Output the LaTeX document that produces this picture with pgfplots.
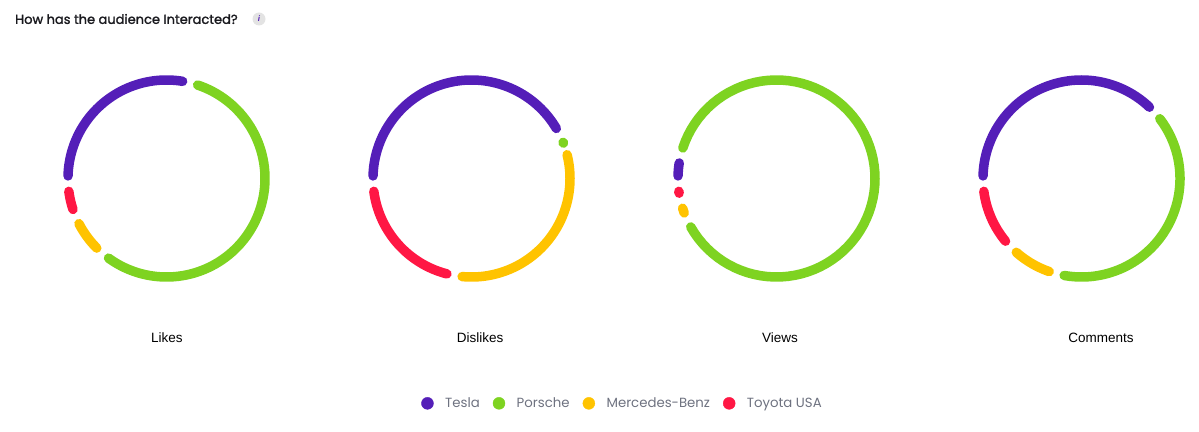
\documentclass[border=0pt]{standalone}
\usepackage{pgfplots}
\pgfplotsset{compat=1.18}
\usepackage{pgfplotstable}
\usepgfplotslibrary{polar}
\usepackage{fontspec}
\setmainfont{Liberation Sans}
\newfontfamily\pop{Poppins}
\newfontfamily\popmed{Poppins}[FakeBold=1.6]

\definecolor{tesla}{RGB}{84,30,184}
\definecolor{porsche}{RGB}{126,211,33}
\definecolor{mercedes}{RGB}{255,195,0}
\definecolor{toyota}{RGB}{255,23,68}
\definecolor{legtext}{RGB}{110,114,128}
\definecolor{titletext}{RGB}{25,25,30}

% share of each brand in percent of the ring
\pgfplotstableread{
brand share
Tesla 29.7
Porsche 57.4
Mercedes 7.4
Toyota 5.5
}\likes
\pgfplotstableread{
brand share
Tesla 43.6
Porsche 2.1
Mercedes 32.9
Toyota 21.4
}\dislikes
\pgfplotstableread{
brand share
Tesla 4.6
Porsche 89.3
Mercedes 3.3
Toyota 2.8
}\views
\pgfplotstableread{
brand share
Tesla 39.2
Porsche 40.7
Mercedes 8.7
Toyota 11.4
}\comments

\newcommand\startangle{183}
\newcommand\gappad{4.5}

% one arc per brand, clockwise from the left
\newcommand\ring[1]{%
  \xdef\cum{0}%
  \foreach \i/\col in {0/tesla,1/porsche,2/mercedes,3/toyota}{%
    \pgfplotstablegetelem{\i}{share}\of#1%
    \pgfmathsetmacro\aS{\startangle-3.6*\cum-\gappad}%
    \pgfmathsetmacro\newcum{\cum+\pgfplotsretval}%
    \pgfmathsetmacro\aE{min(\startangle-3.6*\newcum+\gappad,\aS-0.5)}%
    \xdef\cum{\newcum}%
    \edef\doplot{\noexpand\addplot[draw=\col, line width=9.5pt, line cap=round,
      data cs=polar, domain=\aE:\aS, samples=80, forget plot] (x,98.5);}%
    \doplot
  }%
}

\pgfplotsset{
  ringaxis/.style={
    hide axis, x=1pt, y=1pt,
    xmin=-110, xmax=110, ymin=-110, ymax=110,
    anchor=center, clip=false,
    title style={font=\fontsize{13.5}{15}\selectfont, anchor=center},
  },
}

\begin{document}
\begin{tikzpicture}
\useasboundingbox (0,0) rectangle (1199pt,431pt);

\node[anchor=west, font=\popmed\fontsize{13}{15}\selectfont, text=titletext, inner sep=0pt]
  at (15pt,412pt) {How has the audience Interacted?};
\node[circle, fill=black!11, minimum size=13pt, inner sep=0pt,
  font=\fontsize{8}{8}\selectfont\itshape\bfseries, text=tesla] at (259pt,412pt) {i};

\begin{axis}[ringaxis, at={(166.5pt,252.5pt)},
  title=Likes, title style={at={(axis description cs:0.502,-0.253)}}]
  \ring{\likes}
\end{axis}

\begin{axis}[ringaxis, at={(471.5pt,252.5pt)},
  title=Dislikes, title style={at={(axis description cs:0.539,-0.253)}}]
  \ring{\dislikes}
\end{axis}

\begin{axis}[ringaxis, at={(776.5pt,252.5pt)},
  title=Views, title style={at={(axis description cs:0.516,-0.253)}},
  legend columns=4,
  legend image code/.code={\fill (0pt,0pt) circle (6pt);},
  legend style={at={(axis description cs:-0.2,-0.522)}, anchor=center,
    draw=none, fill=none, text=legtext,
    font=\pop\fontsize{13.3}{15}\selectfont,
    /tikz/every odd column/.append style={column sep=9.5pt},
    /tikz/every even column/.append style={column sep=11pt}},
  ]
  \ring{\views}
  \addlegendimage{tesla, fill=tesla}
  \addlegendentry{Tesla}
  \addlegendimage{porsche, fill=porsche}
  \addlegendentry{Porsche}
  \addlegendimage{mercedes, fill=mercedes}
  \addlegendentry{Mercedes-Benz}
  \addlegendimage{toyota, fill=toyota}
  \addlegendentry{Toyota USA}
\end{axis}

\begin{axis}[ringaxis, at={(1081.5pt,252.5pt)},
  title=Comments, title style={at={(axis description cs:0.589,-0.253)}}]
  \ring{\comments}
\end{axis}
\end{tikzpicture}
\end{document}
